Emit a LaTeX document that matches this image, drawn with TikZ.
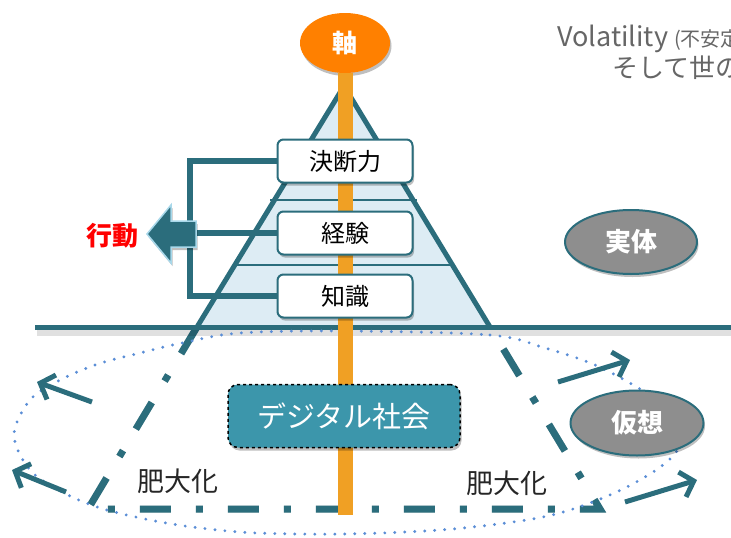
\documentclass[tikz,border=0pt]{standalone}
\usepackage{fontspec}
\setmainfont{Noto Sans CJK JP}
\usetikzlibrary{arrows.meta,shadows,shapes.geometric}
\definecolor{tealA}{HTML}{2B6D7C}
\definecolor{pyrfill}{HTML}{DDECF4}
\definecolor{orangeA}{HTML}{FF8000}
\definecolor{barcol}{HTML}{F0A024}
\definecolor{grayA}{HTML}{8E8E8E}
\definecolor{digi}{HTML}{3C96AB}
\definecolor{dotblue}{HTML}{5B8ED6}
\definecolor{arrowedge}{HTML}{A8D8EA}
\definecolor{textgray}{HTML}{666666}
\newcommand{\fsz}[1]{\fontsize{#1}{#1}\selectfont}
\begin{document}
\begin{tikzpicture}[x=1pt,y=-1pt,
  shad/.style={drop shadow={shadow xshift=1.5pt,shadow yshift=-3pt,opacity=0.25,fill=black}},
  levelbox/.style={draw=tealA,line width=2pt,fill=white,rounded corners=6pt,
     minimum width=135pt,minimum height=43pt,inner sep=0pt,font=\fsz{24},shad},
  oval/.style={ellipse,draw=tealA,line width=2pt,fill=grayA,text=white,inner sep=0pt,
     font=\fsz{26}\bfseries,shad},
  thickline/.style={tealA,line width=5pt},
  growarrow/.style={tealA,line width=5pt,-{Straight Barb[length=12pt,width=26pt]}},
  bracket/.style={tealA,line width=6pt},
  lbl/.style={font=\fsz{27},text=black!85,inner sep=0pt}]
\useasboundingbox (0,0) rectangle (731,538);
\clip (0,0) rectangle (731,538);

% pyramid
\coordinate (apex) at (344,86);
\coordinate (bl) at (197,327);
\coordinate (br) at (490,327);
\fill[pyrfill] (apex) -- (bl) -- (br) -- cycle;
\draw[tealA,line width=2.5pt] (270,200) -- (417,200);
\draw[tealA,line width=2.5pt] (233,265) -- (455,265);
\draw[thickline,line join=miter] (bl) -- (apex) -- (br);

% extension (dash-dot trapezoid)
\coordinate (cl) at (88,509);
\coordinate (cr) at (600,509);
\draw[black,opacity=0.12,line width=7pt,dash pattern=on 31pt off 25pt on 7pt off 25pt,
   xshift=2pt,yshift=-4pt] (bl) -- (cl) -- (cr) -- (br);
\draw[tealA,line width=7pt,dash pattern=on 31pt off 25pt on 7pt off 25pt] (bl) -- (cl) -- (cr) -- (br);

% ground line
\coordinate (g1) at (35,327);
\coordinate (g2) at (735,327);
\draw[black,opacity=0.12,line width=6pt] (37,333) -- (735,333);
\draw[thickline] (g1) -- (g2);

% dotted curve
\draw[dotblue,line width=3.2pt,line cap=round,dash pattern=on 0pt off 10pt]
  plot[smooth cycle,tension=0.55] coordinates {
  (345,331) (490,335) (545,348) (595,365) (645,392) (686,422) (672,457) (627,487)
  (570,510) (520,521) (440,530) (345,534) (257,533) (200,528) (150,520) (100,508)
  (62,492) (30,470) (14,435) (30,400) (60,380) (98,364) (140,353) (182,343) (240,333)};

% growth arrows
\coordinate (a1s) at (92,402);  \coordinate (a1e) at (37,382);
\coordinate (a2s) at (66,492);  \coordinate (a2e) at (12,470);
\coordinate (a3s) at (558,382); \coordinate (a3e) at (630,360);
\coordinate (a4s) at (625,502); \coordinate (a4e) at (697,480);
\draw[growarrow] (a1s) -- (a1e);
\draw[growarrow] (a2s) -- (a2e);
\draw[growarrow] (a3s) -- (a3e);
\draw[growarrow] (a4s) -- (a4e);

% axis
\node[ellipse,fill=orangeA,minimum width=90pt,minimum height=60pt,inner sep=0pt,
  text=white,font=\fsz{25}\bfseries,shad] (axis) at (345,43) {軸};
\coordinate (barend) at (345,515);
\draw[barcol,line width=15pt] (axis.south) -- (barend);

% levels
\node[levelbox] (kd) at (345,161) {決断力};
\node[levelbox] (kk) at (345,233) {経験};
\node[levelbox] (ch) at (345,296) {知識};

% bracket
\coordinate (brx) at (190,0);
\draw[bracket] (kd.west) -- (kd.west -| brx) -- (ch.west -| brx) -- (ch.west);
\draw[bracket] (kk.west) -- (kk.west -| brx);

% action arrow
\filldraw[fill=tealA,draw=arrowedge,line width=1.5pt,line join=miter,shad]
  (147,234) -- (171,205) -- (171,221) -- (196,221) -- (196,247) -- (171,247) -- (171,263) -- cycle;
\node[font=\fsz{26}\bfseries,text=red,inner sep=0pt] (act) at (112,236) {行動};

% digital society
\node[draw=black,dashed,line width=1.5pt,fill=digi,rounded corners=10pt,
  minimum width=232pt,minimum height=63pt,inner sep=0pt,text=white,font=\fsz{29},shad]
  (ds) at (344,416) {デジタル社会};

% ellipses
\node[oval,minimum width=132pt,minimum height=64pt] (real) at (631,242) {実体};
\node[oval,minimum width=133pt,minimum height=65pt] (virt) at (637,423) {仮想};

% labels
\node[lbl] (h1) at (178,481) {肥大化};
\node[lbl] (h2) at (507,483) {肥大化};

\node[anchor=base west,inner sep=0pt,text=textgray] (vol) at (557,46)
  {\fsz{27}Volatility \fsz{20}(不安定};
\node[anchor=base west,inner sep=0pt,text=textgray,font=\fsz{26}] (vol2) at (612,77) {そして世の};
\end{tikzpicture}
\end{document}
